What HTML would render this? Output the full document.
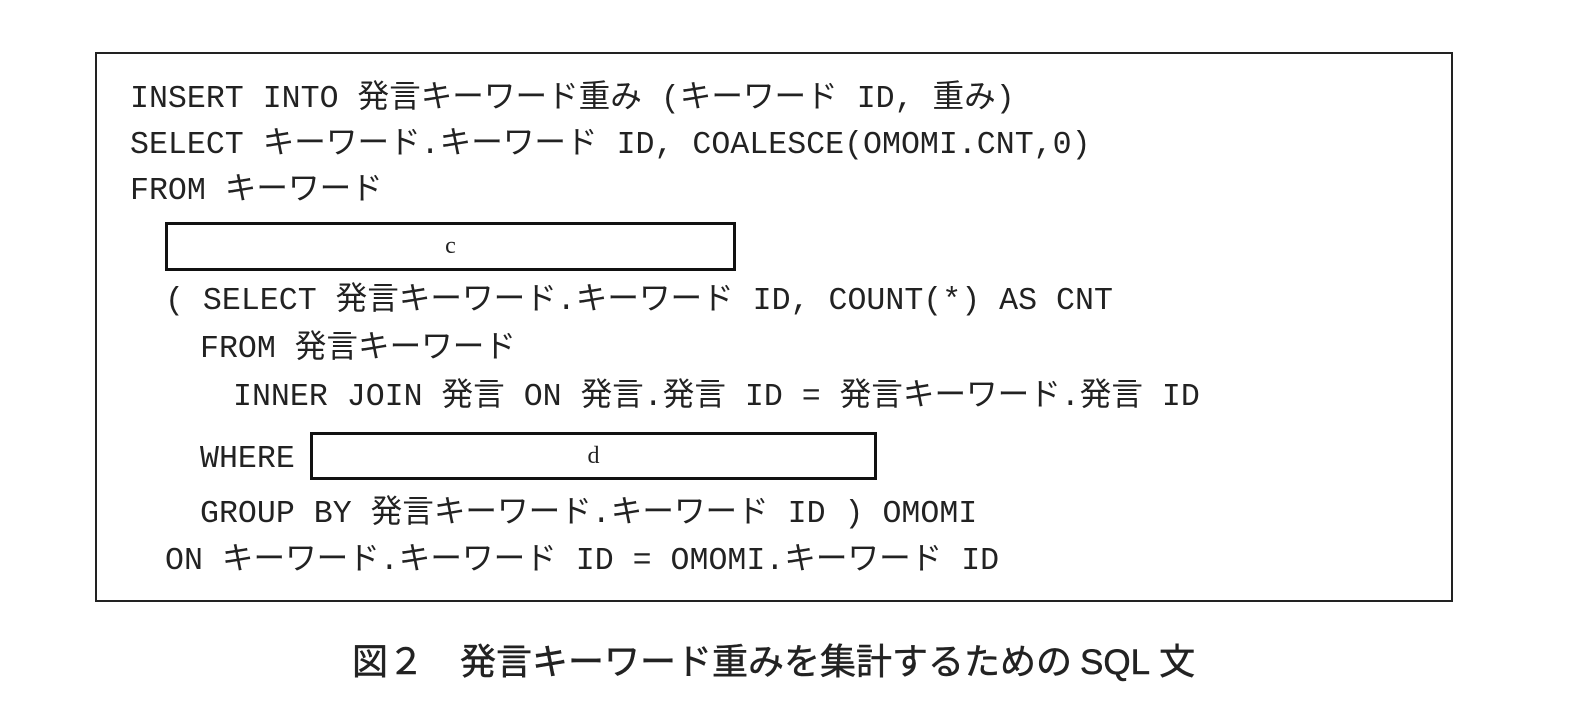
<!DOCTYPE html>
<html><head><meta charset="utf-8">
<style>
body{margin:0;background:#fff;width:1580px;height:704px;position:relative;overflow:hidden}
.frame{position:absolute;left:95px;top:52px;width:1358px;height:550px;border:2px solid #222;box-sizing:border-box}
.l{position:absolute;white-space:pre;font-family:"Liberation Mono","Noto Sans CJK JP",monospace;font-size:31.6px;color:#222;line-height:36px}
.box{position:absolute;border:3px solid #111;box-sizing:border-box;font-family:"Liberation Serif",serif;font-size:24px;text-align:center;color:#222}
.cap{position:absolute;left:352px;top:638px;font-family:"Liberation Sans","Noto Sans CJK JP",sans-serif;font-size:36px;color:#222;white-space:pre;line-height:48px;-webkit-text-stroke:0.5px #222}
</style></head><body>
<div class="frame"></div>
<div class="l" style="left:130px;top:82px">INSERT INTO 発言キーワード重み (キーワード ID, 重み)</div>
<div class="l" style="left:130px;top:128px">SELECT キーワード.キーワード ID, COALESCE(OMOMI.CNT,0)</div>
<div class="l" style="left:130px;top:174px">FROM キーワード</div>
<div class="box" style="left:165px;top:222px;width:571px;height:49px;line-height:43px">c</div>
<div class="l" style="left:165px;top:284px">( SELECT 発言キーワード.キーワード ID, COUNT(*) AS CNT</div>
<div class="l" style="left:200px;top:332px">FROM 発言キーワード</div>
<div class="l" style="left:233px;top:380px">INNER JOIN 発言 ON 発言.発言 ID = 発言キーワード.発言 ID</div>
<div class="l" style="left:200px;top:442px">WHERE</div>
<div class="box" style="left:310px;top:432px;width:567px;height:48px;line-height:42px">d</div>
<div class="l" style="left:200px;top:497px">GROUP BY 発言キーワード.キーワード ID ) OMOMI</div>
<div class="l" style="left:165px;top:544px">ON キーワード.キーワード ID = OMOMI.キーワード ID</div>
<div class="cap">図２　発言キーワード重みを集計するための<span style="font-size:35px;margin:0 9px 0 8px">SQL</span>文</div>
</body></html>
